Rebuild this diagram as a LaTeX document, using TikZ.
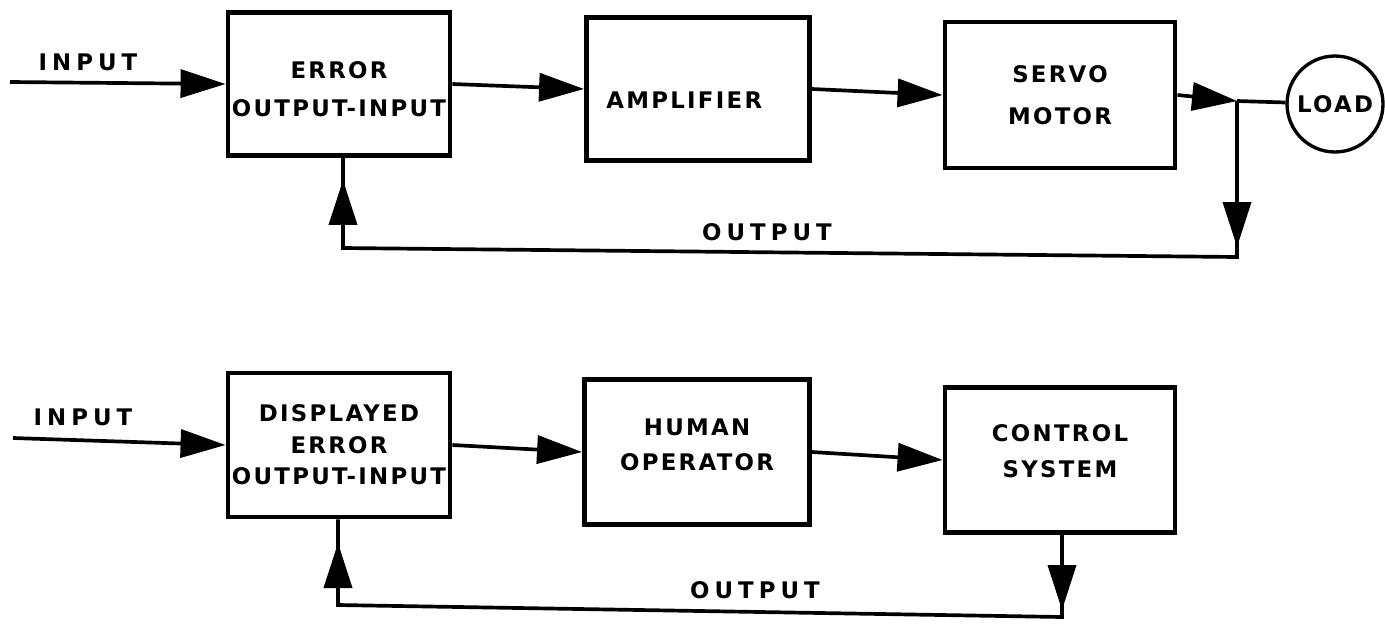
\documentclass[tikz,border=0pt]{standalone}
\usepackage{fontspec}
\newfontfamily\lettering[LetterSpace=10]{DejaVu Sans}
\newfontfamily\widelettering[LetterSpace=22]{DejaVu Sans}
\usetikzlibrary{arrows.meta}

% struts to move a block's text off centre
\newcommand{\pushdown}[1]{\rule{0pt}{#1}}
\newcommand{\pushup}[1]{\rule[-#1]{0pt}{0pt}}

\tikzset{
  block/.style={draw, line width=2.8pt, align=center, inner sep=0pt,
    minimum width=4.5cm, minimum height=2.9cm,
    font=\lettering\bfseries\fontsize{13}{22}\selectfont},
  tight/.style={font=\lettering\bfseries\fontsize{13}{18}\selectfont},
  lbl/.style={font=\widelettering\bfseries\fontsize{13}{14}\selectfont},
}

\begin{document}
\begin{tikzpicture}[x=0.02cm, y=-0.02cm, line width=2.1pt,
    >={Triangle[length=0.9cm, width=0.56cm]}]
    \useasboundingbox (0,0) rectangle (1385,623);

    % servo loop
    \node[block, minimum width=4.44cm, minimum height=2.86cm] (err1) at (339,84) {\pushdown{0.54cm}ERROR\\OUTPUT-INPUT};
    \node[block, minimum width=4.46cm, minimum height=2.86cm] (amp) at (698,89) {\pushdown{0.78cm}AMPLIFIER\hspace*{0.55cm}};
    \node[block, minimum width=4.6cm, minimum height=2.92cm, font=\lettering\bfseries\fontsize{13}{24}\selectfont] (servo) at (1060,95) {SERVO\\MOTOR};
    \node[draw, circle, line width=1.9pt, minimum size=1.92cm, inner sep=0pt, font=\lettering\bfseries\fontsize{13}{14}\selectfont] (load) at (1335,104) {LOAD};
    \node[lbl] (in1lbl) at (88,62) {INPUT};
    \node[lbl] (out1lbl) at (767,232) {OUTPUT};
    \coordinate (in1) at (10,82);
    \coordinate (jn1) at (1237,101);
    \coordinate (dn1) at (1237,247);
    \coordinate (fb1a) at (1237,257);
    \coordinate (fb1b) at (343,248);
    \coordinate (up1) at (343,180);

    \draw[->] (in1) -- (err1.west);
    \draw[->] (err1.east) -- (amp.west);
    \draw[->] (amp.east) -- (servo.west);
    \draw[->] (servo.east) -- (jn1);
    \draw (jn1) -- (load);
    \draw[line join=miter] (jn1) -- (fb1a) -- (fb1b) -- (fb1b |- err1.south);
    \draw[->] (jn1) -- (dn1);
    \draw[->] (fb1b) -- (up1);

    % operator loop
    \node[block, tight, minimum width=4.44cm, minimum height=2.88cm] (err2) at (339,445) {DISPLAYED\\ERROR\\OUTPUT-INPUT};
    \node[block, font=\lettering\bfseries\fontsize{13}{20}\selectfont, minimum width=4.5cm, minimum height=2.9cm] (human) at (697,452) {HUMAN\\OPERATOR\pushup{0.28cm}};
    \node[block, minimum width=4.6cm, minimum height=2.9cm, font=\lettering\bfseries\fontsize{13}{21}\selectfont] (ctrl) at (1060,460) {CONTROL\\SYSTEM\pushup{0.36cm}};
    \node[lbl] (in2lbl) at (83,417) {INPUT};
    \node[lbl] (out2lbl) at (755,590) {OUTPUT};
    \coordinate (in2) at (13,438);
    \coordinate (dn2) at (1062,610);
    \coordinate (fb2a) at (1062,617);
    \coordinate (fb2b) at (338,605);
    \coordinate (up2) at (338,543);

    \draw[->] (in2) -- (err2.west);
    \draw[->] (err2.east) -- (human.west);
    \draw[->] (human.east) -- (ctrl.west);
    \draw[line join=miter] (ctrl.south -| fb2a) -- (fb2a) -- (fb2b) -- (fb2b |- err2.south);
    \draw[->] (ctrl.south -| fb2a) -- (dn2);
    \draw[->] (fb2b) -- (up2);
\end{tikzpicture}
\end{document}
